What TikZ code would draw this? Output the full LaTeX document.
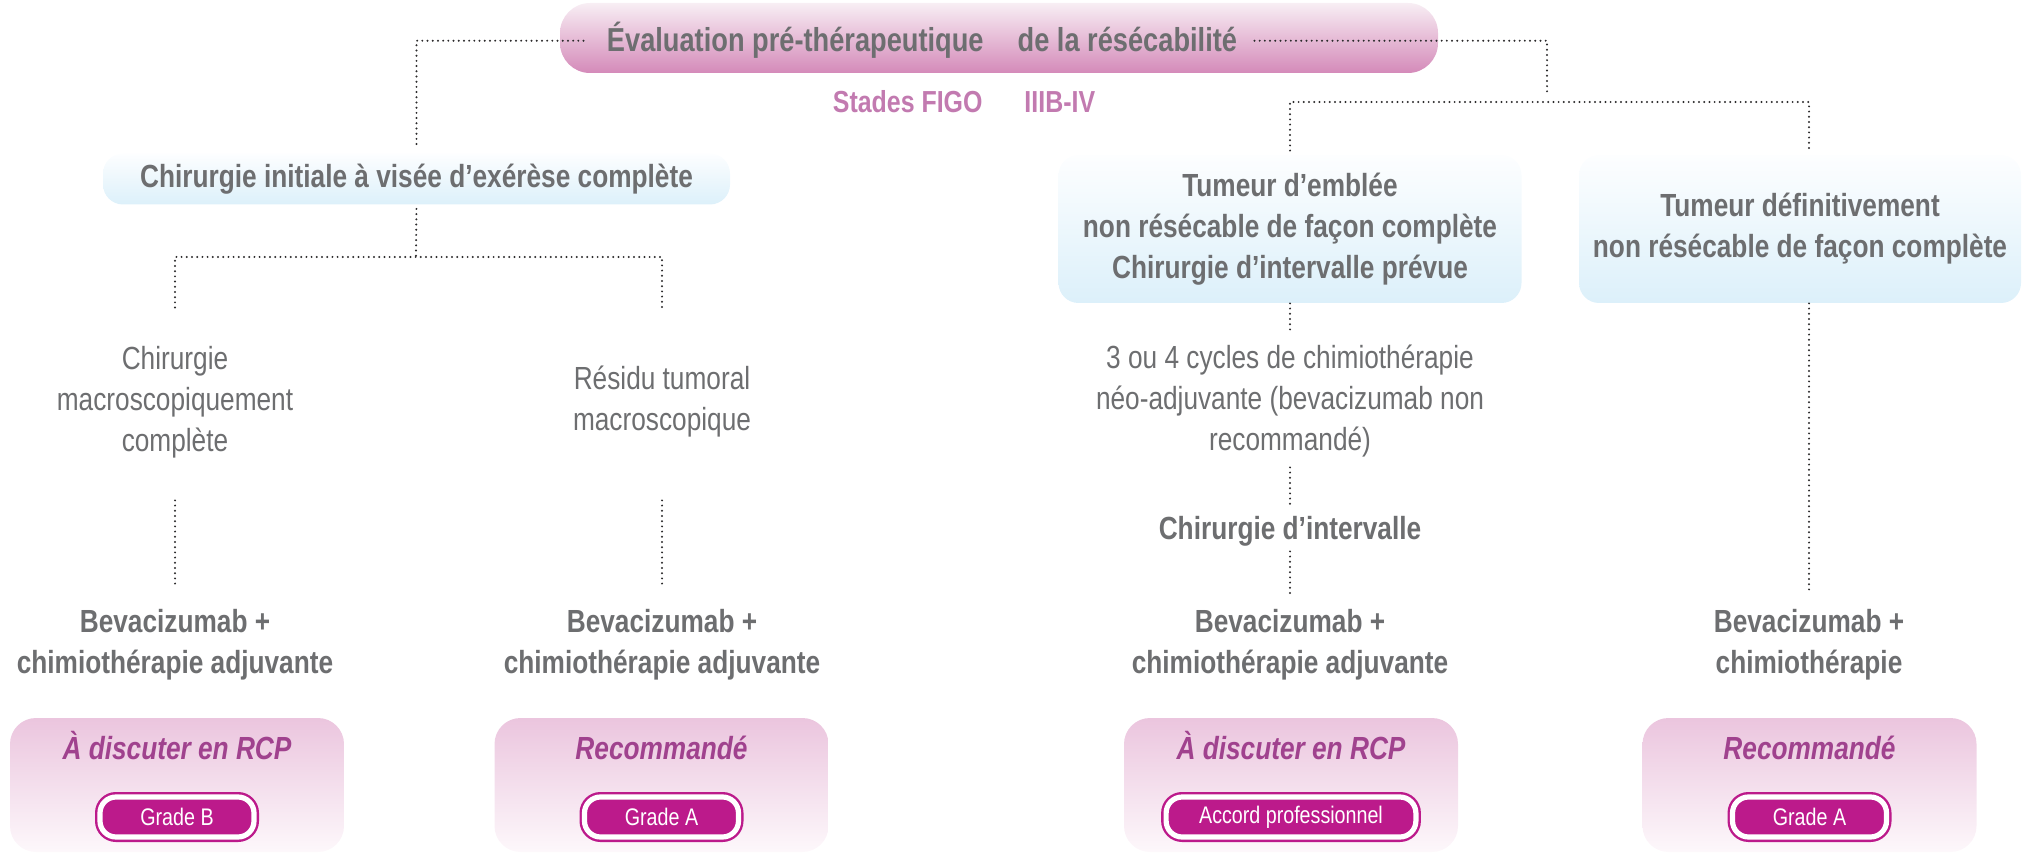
\documentclass[tikz,border=0pt]{standalone}
\usepackage{fontspec}
\setmainfont{Liberation Sans}[FakeStretch=0.82]
\usepackage{xcolor}
\usepackage{tikz}
\usetikzlibrary{calc}

\definecolor{txtgray}{HTML}{6D6E70}
\definecolor{figopink}{HTML}{C27AB0}
\definecolor{rcpviolet}{HTML}{A0428E}
\definecolor{grademag}{HTML}{BC1A8B}
\definecolor{dotgray}{HTML}{2B2A2B}
\definecolor{pinktop}{HTML}{F8EEF4}
\definecolor{pinkbot}{HTML}{D48AB9}
\definecolor{bluetop}{HTML}{FDFEFF}
\definecolor{bluebot}{HTML}{DCF0FA}
\definecolor{rcptop}{HTML}{EBC5DE}
\definecolor{rcpbot}{HTML}{FDF8FB}

\tikzset{
	conn/.style={draw=dotgray, line width=1.1pt, line cap=round, dash pattern=on 0pt off 2.6pt},
	txt/.style={inner sep=0pt, text=txtgray, align=center, font=\fontsize{16}{20.5}\selectfont},
	txtb/.style={txt, font=\fontsize{16}{20.5}\selectfont\bfseries},
	evalbox/.style={rounded corners=15pt, top color=pinktop, bottom color=pinkbot, minimum width=439pt, minimum height=35pt},
	evaltxt/.style={inner sep=0pt, anchor=base, text=txtgray, font=\fontsize{16.6}{19}\selectfont\bfseries},
	figotxt/.style={inner sep=0pt, anchor=base, text=figopink, font=\fontsize{15.2}{17}\selectfont\bfseries},
	bluebox/.style={txtb, rounded corners=10pt, top color=bluetop, bottom color=bluebot},
	rcpbox/.style={rounded corners=13pt, top color=rcptop, bottom color=rcpbot, minimum width=167pt, minimum height=67pt},
	rcptitle/.style={inner sep=0pt, anchor=base, text=rcpviolet, font=\fontsize{16}{18}\selectfont\bfseries\itshape},
	gradepill/.style={draw=grademag, line width=1.2pt, double=white, double distance=2.6pt, fill=grademag, text=white, rounded corners=8pt, minimum width=77pt, minimum height=20pt, inner xsep=16.5pt, inner ysep=0pt, font=\fontsize{12}{13}\selectfont}
}

\begin{document}
\begin{tikzpicture}[x=0.5pt,y=-0.5pt]
	\useasboundingbox (0,0) rectangle (2027,854);
	\node[evalbox] (evalbox) at (999,38) {};
	\node[evaltxt] (evaltxt) at (922,52) {Évaluation pré-thérapeutique\hspace{17pt}de la résécabilité};
	\node[figotxt] (figo) at (964,113) {Stades FIGO\hspace{21pt}IIIB-IV};
	\coordinate (rsplit) at (1547,102);
	\coordinate (lsplit) at (416,257);

	\node[bluebox, minimum width=313.5pt, minimum height=25.5pt] (chir) at (416.5,179) {Chirurgie initiale à visée d’exérèse complète};
	\node[bluebox, minimum width=231.5pt, minimum height=74pt] (emblee) at (1290,229) {Tumeur d’emblée\\non résécable de façon complète\\Chirurgie d’intervalle prévue};
	\node[bluebox, minimum width=221pt, minimum height=74pt] (defin) at (1800,229) {Tumeur définitivement\\non résécable de façon complète};

	\node[txt, minimum height=94pt] (cmc) at (175,402) {Chirurgie\\macroscopiquement\\complète};
	\node[txt, minimum height=94pt] (residu) at (662,402) {Résidu tumoral\\macroscopique};
	\node[txt, minimum height=66pt] (cycles) at (1290,401) {3 ou 4 cycles de chimiothérapie\\néo-adjuvante (bevacizumab non\\recommandé)};
	\node[txtb] (interv) at (1290,531) {Chirurgie d’intervalle};

	\node[txtb, anchor=north] (beva1) at (175,609) {Bevacizumab +\\chimiothérapie adjuvante};
	\node[txtb, anchor=north] (beva2) at (662,609) {Bevacizumab +\\chimiothérapie adjuvante};
	\node[txtb, anchor=north] (beva3) at (1290,609) {Bevacizumab +\\chimiothérapie adjuvante};
	\node[txtb, anchor=north] (beva4) at (1809,609) {Bevacizumab +\\chimiothérapie};

	\node[rcpbox] (rcp1) at (177,785) {};
	\node[rcpbox] (rcp2) at (661.5,785) {};
	\node[rcpbox] (rcp3) at (1291,785) {};
	\node[rcpbox] (rcp4) at (1809.5,785) {};
	\node[rcptitle] (avis1) at (177,759) {À discuter en RCP};
	\node[rcptitle] (avis2) at (661.5,759) {Recommandé};
	\node[rcptitle] (avis3) at (1291,759) {À discuter en RCP};
	\node[rcptitle] (avis4) at (1809.5,759) {Recommandé};
	\node[gradepill] (grade1) at (177,817) {Grade B};
	\node[gradepill] (grade2) at (661.5,817) {Grade A};
	\node[gradepill] (grade3) at (1291,817) {Accord professionnel};
	\node[gradepill] (grade4) at (1809.5,817) {Grade A};

	\draw[conn, shorten <=11.5pt, shorten >=2pt] (evaltxt.west) -| (chir.north);
	\draw[conn, shorten <=8.5pt, shorten >=4.5pt] (evaltxt.east) -| (rsplit);
	\draw[conn, shorten <=2pt, shorten >=2pt] (emblee.north) |- (rsplit) -| (beva4.north |- defin.north);
	\draw[conn, shorten <=2pt] (chir.south) -- (lsplit);
	\draw[conn] (cmc.north) |- (lsplit) -| (residu.north);
	\draw[conn, shorten <=2pt, shorten >=12pt] (cmc.south) -- (beva1.north);
	\draw[conn, shorten <=2pt, shorten >=12pt] (residu.south) -- (beva2.north);
	\draw[conn] (emblee.south) -- (cycles.north);
	\draw[conn, shorten >=4pt] (cycles.south) -- (interv.north);
	\draw[conn, shorten <=2.5pt, shorten >=8pt] (interv.south) -- (beva3.north);
	\draw[conn, shorten >=8pt] (beva4.north |- defin.south) -- (beva4.north);
\end{tikzpicture}
\end{document}
